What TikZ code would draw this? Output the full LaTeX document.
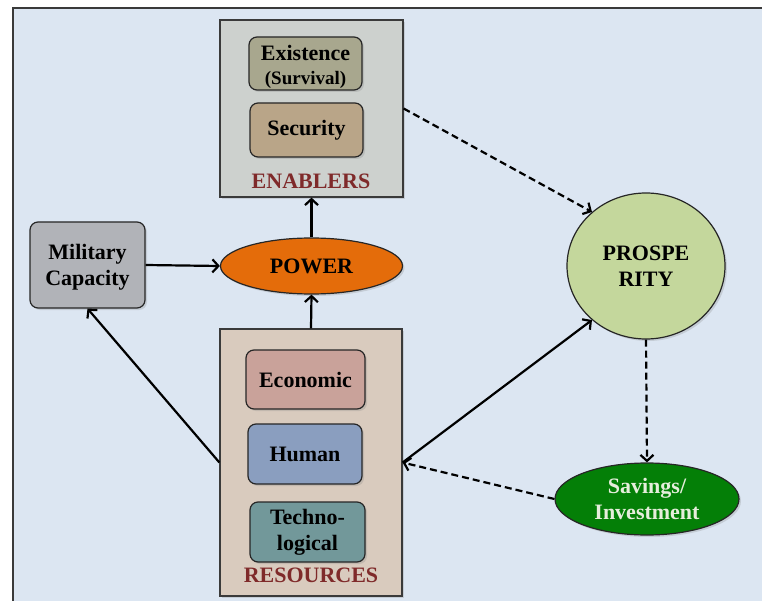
\documentclass[tikz,border=0pt]{standalone}
\usepackage{fontspec}
\setmainfont{Liberation Serif}
\usetikzlibrary{arrows.meta,shapes.geometric,shadows}
\definecolor{bgblue}{HTML}{DCE6F2}
\definecolor{framec}{HTML}{3A3A3A}
\definecolor{enabc}{HTML}{CDD1CE}
\definecolor{existc}{HTML}{A8A78E}
\definecolor{secuc}{HTML}{B9A588}
\definecolor{milc}{HTML}{B1B3B8}
\definecolor{powerc}{HTML}{E46C0A}
\definecolor{resc}{HTML}{D9CBBE}
\definecolor{econc}{HTML}{C9A29A}
\definecolor{humc}{HTML}{8A9EBF}
\definecolor{techc}{HTML}{72989A}
\definecolor{prosc}{HTML}{C4D79C}
\definecolor{savc}{HTML}{047F07}
\definecolor{labred}{HTML}{7F2A2A}
\definecolor{savtext}{HTML}{E6EEDC}
\tikzset{
  txt/.style={font=\fontsize{22}{26}\selectfont\bfseries, align=center, inner sep=0pt},
  container/.style={draw=framec, line width=1.2pt, rectangle, inner sep=0pt,
    drop shadow={shadow xshift=2pt, shadow yshift=-2pt, opacity=0.25}},
  item/.style={draw=black!85, line width=1.2pt, rectangle, rounded corners=8pt, txt,
    drop shadow={shadow xshift=2pt, shadow yshift=-2pt, opacity=0.25}},
  oval/.style={draw=black!85, line width=1.2pt, ellipse, txt,
    drop shadow={shadow xshift=2pt, shadow yshift=-2pt, opacity=0.25}},
  grouplabel/.style={txt, text=labred},
  conn/.style={line width=2.2pt, -{Straight Barb[length=6pt,width=13pt,line width=2.2pt]}},
  dconn/.style={conn, dash pattern=on 7pt off 4pt},
}
\begin{document}
\begin{tikzpicture}[x=1pt,y=-1pt]
\useasboundingbox (0,0) rectangle (762,601);
\clip (0,0) rectangle (762,601);
\fill[white] (0,0) rectangle (762,601);
\draw[fill=bgblue, draw=framec, line width=1.5pt] (13,8) rectangle (800,650);

% Enablers group
\node[container, fill=enabc, minimum width=183pt, minimum height=177pt] (enab) at (311.5,108.5) {};
\node[item, fill=existc, minimum width=113pt, minimum height=53pt] (exist) at (305.5,63.5) {};
\node[txt] (existtxt) at ([yshift=-3pt]exist.center)
  {Existence\\[-2pt]{\fontsize{19}{22}\selectfont(Survival)}};
\node[item, fill=secuc, minimum width=113pt, minimum height=54pt] (secu) at (306.5,130) {Security};
\node[grouplabel] (enablab) at (311,181) {ENABLERS};

% Military capacity
\node[item, fill=milc, minimum width=115pt, minimum height=86pt] (mil) at (87.5,265) {};
\node[txt] (miltxt) at ([yshift=-2pt]mil.center) {Military\\Capacity};

% Power
\node[oval, fill=powerc, minimum width=182pt, minimum height=56pt] (power) at (311.5,266) {POWER};

% Resources group
\node[container, fill=resc, minimum width=182pt, minimum height=267pt] (res) at (311,462.5) {};
\node[item, fill=econc, minimum width=119pt, minimum height=59pt] (econ) at (305.5,379.5) {Economic};
\node[item, fill=humc, minimum width=114pt, minimum height=60pt] (hum) at (305,454) {Human};
\node[item, fill=techc, minimum width=115pt, minimum height=60pt] (tech) at (307.5,532) {Techno-\\logical};
\node[grouplabel] (reslab) at (311,575) {RESOURCES};

% Prosperity
\node[oval, fill=prosc, minimum width=158pt, minimum height=146pt] (pros) at (646,266) {PROSPE\\RITY};

% Savings
\node[oval, fill=savc, text=savtext, minimum width=184pt, minimum height=72pt] (sav) at (647,499) {Savings/\\Investment};

% Connectors
\draw[dconn] (enab.east) -- (pros.135);
\draw[dconn] (pros.south) -- (sav.north);
\draw[dconn] (sav.west) -- (res.east);
\draw[conn] (res.east) -- (pros.225);
\draw[conn] (res.north) -- (power.south);
\draw[conn] (power.north) -- (enab.south);
\draw[conn] (mil.east) -- (power.west);
\draw[conn] (res.west) -- (mil.south);
\end{tikzpicture}
\end{document}
